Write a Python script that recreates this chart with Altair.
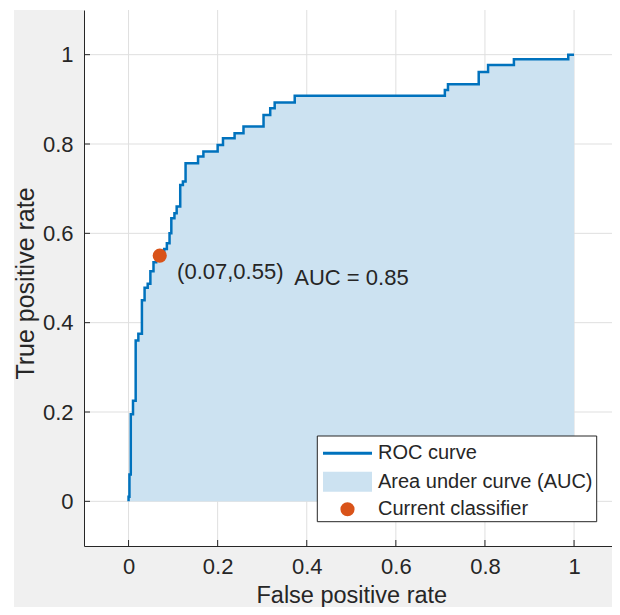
import altair as alt
import pandas as pd

# ---------------- data ----------------
fpr = [0.000, 0.000, 0.002, 0.002, 0.005, 0.005, 0.010, 0.010, 0.016, 0.016,
       0.022, 0.022, 0.030, 0.030, 0.036, 0.036, 0.043, 0.043, 0.049, 0.049,
       0.056, 0.056, 0.062, 0.062, 0.070, 0.080, 0.080, 0.086, 0.086, 0.092,
       0.092, 0.096, 0.096, 0.103, 0.103, 0.108, 0.108, 0.116, 0.116, 0.122,
       0.122, 0.128, 0.128, 0.156, 0.156, 0.168, 0.168, 0.200, 0.200, 0.212,
       0.212, 0.238, 0.238, 0.258, 0.258, 0.303, 0.303, 0.318, 0.318, 0.328,
       0.328, 0.373, 0.373, 0.710, 0.710, 0.717, 0.717, 0.786, 0.786, 0.807,
       0.807, 0.865, 0.865, 0.987, 0.987, 1.000]
tpr = [0.000, 0.010, 0.010, 0.060, 0.060, 0.195, 0.195, 0.225, 0.225, 0.360,
       0.360, 0.375, 0.375, 0.450, 0.450, 0.478, 0.478, 0.487, 0.487, 0.515,
       0.515, 0.535, 0.535, 0.550, 0.550, 0.550, 0.565, 0.565, 0.578, 0.578,
       0.600, 0.600, 0.634, 0.634, 0.645, 0.645, 0.660, 0.660, 0.708, 0.708,
       0.716, 0.716, 0.757, 0.757, 0.772, 0.772, 0.783, 0.783, 0.798, 0.798,
       0.813, 0.813, 0.824, 0.824, 0.839, 0.839, 0.865, 0.865, 0.880, 0.880,
       0.893, 0.893, 0.908, 0.908, 0.921, 0.921, 0.934, 0.934, 0.961, 0.961,
       0.977, 0.977, 0.990, 0.990, 1.000, 1.000]
current_fpr = [0.07]
current_tpr = [0.55]
tick_values = [0, 0.2, 0.4, 0.6, 0.8, 1]
legend_labels = ["ROC curve", "Area under curve (AUC)", "Current classifier"]
point_label = "(0.07,0.55)"
auc_label = "AUC = 0.85"
x_title = "False positive rate"
y_title = "True positive rate"

# ---------------- styling ----------------
W, H = 528, 536
PAD_L, PAD_T, PAD_R, PAD_B = 76, 2, 0, 61
BLUE = "#0072BD"
AREA = "#CCE2F1"
ORANGE = "#D95319"
DARK = "#262626"
GRID = "#dfdfdf"
FIG = "#f0f0f0"
FONT = "Liberation Sans"

curve = pd.DataFrame({"fpr": fpr, "tpr": tpr, "i": list(range(len(fpr)))})
cur = pd.DataFrame({"fpr": current_fpr, "tpr": current_tpr})
ticks = pd.DataFrame({"v": tick_values})
one = pd.DataFrame({"k": [0]})

PX_PER_UNIT = 445.5
xs = alt.Scale(domain=[-0.1, -0.1 + W / PX_PER_UNIT], nice=False, zero=False)
ys = alt.Scale(domain=[-0.1, 1.1], nice=False, zero=False)

xaxis = alt.Axis(values=tick_values, format="~g", grid=False, ticks=False,
                 domainColor=DARK, domainWidth=1, labelColor=DARK,
                 labelFont=FONT, labelFontSize=22, labelPadding=10,
                 title=x_title, titleFont=FONT, titleFontSize=23.5,
                 titleFontWeight="normal", titleColor=DARK,
                 titleBaseline="alphabetic", titleX=0.6 * PX_PER_UNIT, titleY=56,
                 zindex=1)
yaxis = alt.Axis(values=tick_values, format="~g", grid=False, ticks=False,
                 domainColor=DARK, domainWidth=1, labelColor=DARK,
                 labelFont=FONT, labelFontSize=22, labelPadding=11,
                 title=y_title, titleFont=FONT, titleFontSize=25,
                 titleFontWeight="normal", titleColor=DARK,
                 titleBaseline="middle", titleX=-59, titleY=H / 2 + 5, titleAngle=270,
                 zindex=1)


def X(field):
    return alt.X(field, scale=xs, axis=xaxis)


def Y(field, **kw):
    return alt.Y(field, scale=ys, axis=yaxis, **kw)


strip_left = alt.Chart(one).mark_rect(color=FIG).encode(
    x=alt.value(-70), x2=alt.value(0), y=alt.value(0), y2=alt.value(H + PAD_B))
strip_bottom = alt.Chart(one).mark_rect(color=FIG).encode(
    x=alt.value(-70), x2=alt.value(W), y=alt.value(H), y2=alt.value(H + PAD_B))

grid_x = alt.Chart(ticks).mark_rule(color=GRID, strokeWidth=1).encode(
    x=X("v:Q"), y=alt.value(0), y2=alt.value(H))
grid_y = alt.Chart(ticks).mark_rule(color=GRID, strokeWidth=1).encode(
    y=Y("v:Q"), x=alt.value(0), x2=alt.value(W))

area = alt.Chart(curve).mark_area(fill=AREA, opacity=1, orient="vertical").encode(
    x=X("fpr:Q"),
    y=Y("tpr:Q", stack=None))
line = alt.Chart(curve).mark_line(color=BLUE, strokeWidth=2.5).encode(
    x=X("fpr:Q"),
    y=Y("tpr:Q"),
    order="i:Q")
point = alt.Chart(cur).mark_circle(color=ORANGE, size=200, opacity=1).encode(
    x=X("fpr:Q"),
    y=Y("tpr:Q"))

txt_point = alt.Chart(one).mark_text(text=point_label, align="left", baseline="middle",
                                     font=FONT, fontSize=22, color=DARK).encode(
    x=alt.value(0.209 * PX_PER_UNIT),
    y=alt.value(H - (0.513 + 0.1) * H / 1.2))
txt_auc = alt.Chart(one).mark_text(text=auc_label, align="left", baseline="middle",
                                   font=FONT, fontSize=22, color=DARK).encode(
    x=alt.value(0.472 * PX_PER_UNIT),
    y=alt.value(H - 0.60 * H / 1.2))

tick_x = alt.Chart(ticks).mark_rule(color=DARK, strokeWidth=1).encode(
    x=X("v:Q"), y=alt.value(H), y2=alt.value(H - 6))
tick_y = alt.Chart(ticks).mark_rule(color=DARK, strokeWidth=1).encode(
    y=Y("v:Q"), x=alt.value(0), x2=alt.value(6))

# ---------------- legend ----------------
LX0, LX1, LY0, LY1 = 233.3, 512.7, 426, 511.7
SX0, SX1 = 239, 288
ROWS = [443.3, 471.7, 499.3]
TX = 294

leg_box = alt.Chart(one).mark_rect(fill="white", stroke=DARK, strokeWidth=1).encode(
    x=alt.value(LX0), x2=alt.value(LX1), y=alt.value(LY0), y2=alt.value(LY1))
leg_line = alt.Chart(one).mark_rule(color=BLUE, strokeWidth=3).encode(
    x=alt.value(SX0), x2=alt.value(SX1), y=alt.value(ROWS[0]))
leg_patch = alt.Chart(one).mark_rect(color=AREA).encode(
    x=alt.value(SX0), x2=alt.value(SX1), y=alt.value(ROWS[1] - 10), y2=alt.value(ROWS[1] + 10))
leg_dot = alt.Chart(one).mark_circle(color=ORANGE, size=200, opacity=1).encode(
    x=alt.value((SX0 + SX1) / 2), y=alt.value(ROWS[2]))
leg_texts = [
    alt.Chart(one).mark_text(text=lab, align="left", baseline="middle",
                             font=FONT, fontSize=20, color=DARK).encode(
        x=alt.value(TX), y=alt.value(ry))
    for lab, ry in zip(legend_labels, ROWS)
]

chart = alt.layer(
    strip_left, strip_bottom, grid_x, grid_y, area, line, point,
    txt_point, txt_auc, tick_x, tick_y,
    leg_box, leg_line, leg_patch, leg_dot, *leg_texts
).properties(
    width=W, height=H,
    padding={"left": PAD_L, "top": PAD_T, "right": PAD_R, "bottom": PAD_B},
    autosize=alt.AutoSizeParams(type="none"),
    background="white",
).configure_view(stroke=None)

chart.save("out.html", embed_options={"renderer": "svg", "actions": False})
